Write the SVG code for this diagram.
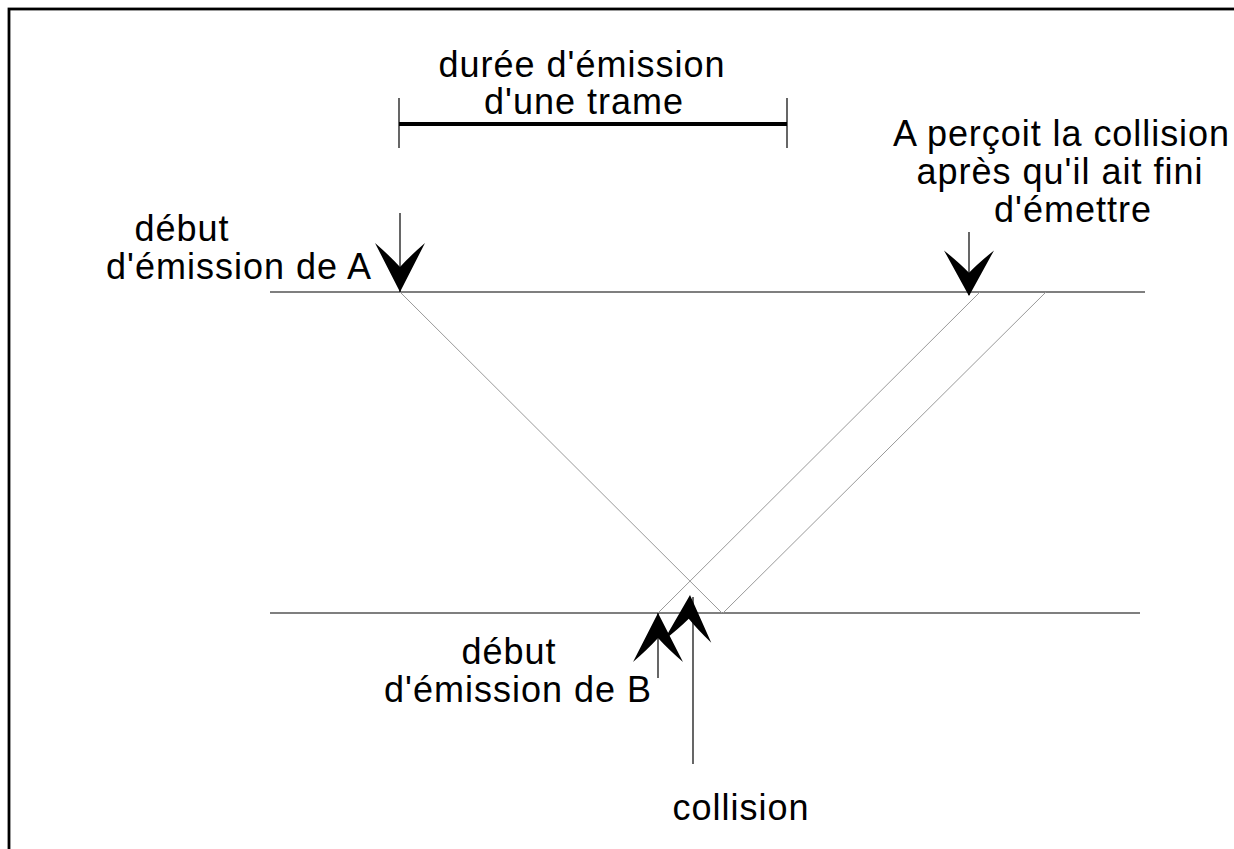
<svg xmlns="http://www.w3.org/2000/svg" xmlns:xlink="http://www.w3.org/1999/xlink" width="1234" height="849" viewBox="0 0 1234 849">
<style>
text{font-family:"Liberation Sans",Arial,sans-serif;font-size:36px;letter-spacing:1px;fill:#000;text-anchor:middle}
.axis{stroke:#555;stroke-width:1.3;fill:none}
.sig{stroke:#999;stroke-width:1;fill:none}
.shaft{stroke:#000;stroke-width:1.2;fill:none}
</style>
<defs>
<path id="barb" d="M0,0 L-25,-49 Q-10,-36 0,-25 Q10,-36 25,-49 Z" fill="#000"/>
</defs>
<rect x="0" y="0" width="1234" height="849" fill="#fff"/>
<rect x="9" y="9" width="1250" height="870" fill="none" stroke="#000" stroke-width="2.8"/>

<g id="duree">
<text x="582" y="77">durée d'émission</text>
<text x="584" y="114">d'une trame</text>
<line x1="399" y1="124" x2="787" y2="124" stroke="#000" stroke-width="4"/>
<line x1="399" y1="98" x2="399" y2="148" class="shaft"/>
<line x1="787" y1="98" x2="787" y2="148" class="shaft"/>
</g>

<g id="ligneA">
<line x1="270" y1="292" x2="1145" y2="292" class="axis"/>
</g>
<g id="ligneB">
<line x1="270" y1="613" x2="1140" y2="613" class="axis"/>
</g>

<g id="debutA">
<text x="182" y="241">début</text>
<text x="239" y="279">d'émission de A</text>
</g>
<g id="percoit">
<text x="893" y="146" style="text-anchor:start;letter-spacing:0" textLength="336" lengthAdjust="spacing">A perçoit la collision</text>
<text x="1060" y="184">après qu'il ait fini</text>
<text x="1073" y="222">d'émettre</text>
</g>
<g id="debutB">
<text x="509" y="664">début</text>
<text x="518" y="702">d'émission de B</text>
</g>
<g id="collision">
<text x="741" y="820">collision</text>
</g>

<g id="connectors">
<line x1="400" y1="292" x2="722" y2="613" class="sig"/>
<line x1="980" y1="292" x2="658" y2="613" class="sig"/>
<line x1="1046" y1="292" x2="723" y2="613" class="sig"/>

<line x1="400" y1="213" x2="400" y2="292" class="shaft"/>
<use xlink:href="#barb" href="#barb" transform="translate(400,292)"/>

<line x1="969" y1="232" x2="969" y2="295" class="shaft"/>
<use xlink:href="#barb" href="#barb" transform="translate(969,296) scale(1,0.93)"/>

<line x1="658" y1="613" x2="658" y2="678" class="shaft"/>
<use xlink:href="#barb" href="#barb" transform="translate(658,613) rotate(180)"/>

<line x1="693" y1="597" x2="693" y2="764" class="shaft"/>
<use xlink:href="#barb" href="#barb" transform="translate(690,595) rotate(183) scale(0.95,0.95)"/>
</g>
</svg>
